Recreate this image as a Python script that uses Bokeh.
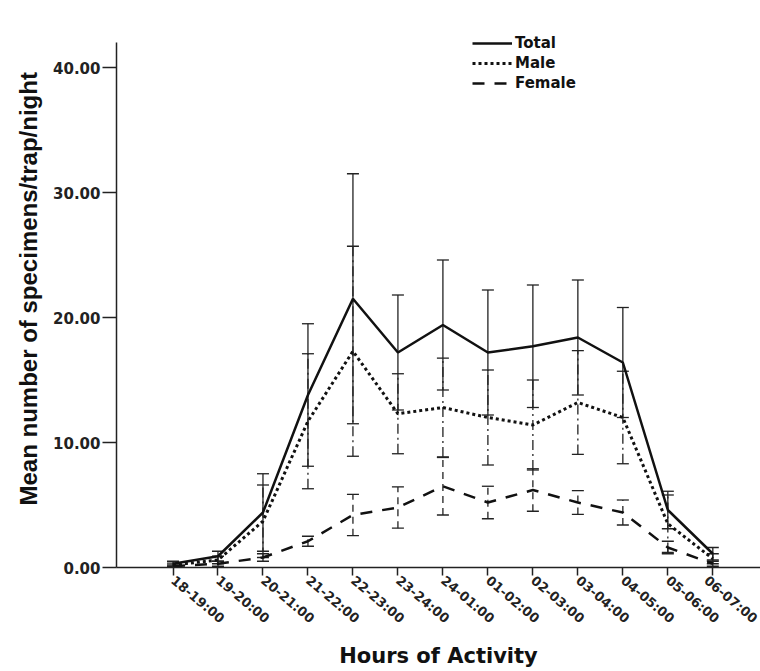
import numpy as np
from bokeh.plotting import figure
from bokeh.models import (ColumnDataSource, Range1d, FixedTicker, PrintfTickFormatter,
                          Whisker, TeeHead, Legend, LegendItem, Title)
from bokeh.embed import file_html
from bokeh.resources import INLINE

hours = ["18-19:00", "19-20:00", "20-21:00", "21-22:00", "22-23:00", "23-24:00",
         "24-01:00", "01-02:00", "02-03:00", "03-04:00", "04-05:00", "05-06:00", "06-07:00"]
total = [0.3, 0.9, 4.4, 13.8, 21.5, 17.2, 19.4, 17.2, 17.7, 18.4, 16.4, 4.6, 1.1]
total_err = [0.2, 0.4, 3.1, 5.7, 10.0, 4.6, 5.2, 5.0, 4.9, 4.6, 4.4, 1.5, 0.5]
male = [0.2, 0.6, 3.7, 11.7, 17.3, 12.3, 12.8, 12.0, 11.4, 13.2, 12.0, 3.5, 0.7]
male_err = [0.15, 0.3, 2.9, 5.4, 8.4, 3.2, 3.95, 3.8, 3.6, 4.15, 3.7, 2.3, 0.4]
female = [0.1, 0.3, 0.8, 2.1, 4.2, 4.8, 6.5, 5.2, 6.2, 5.2, 4.4, 1.6, 0.3]
female_err = [0.1, 0.2, 0.3, 0.4, 1.65, 1.65, 2.3, 1.3, 1.7, 0.95, 1.0, 0.5, 0.2]
y_ticks = [0, 10, 20, 30, 40]

x = np.arange(len(hours))

def src(vals, errs):
    v = np.array(vals)
    e = np.array(errs)
    return ColumnDataSource(dict(x=x, y=v, upper=v + e, lower=v - e))

s_total = src(total, total_err)
s_male = src(male, male_err)
s_female = src(female, female_err)

FONT = "DejaVu Sans"
INK = "#111111"

p = figure(width=760, height=671, output_backend="svg", toolbar_location=None,
           x_range=Range1d(-1.256, 13.06), y_range=Range1d(0, 42.96),
           min_border_left=116, min_border_right=0, min_border_top=30, min_border_bottom=104)
p.outline_line_color = None
p.xgrid.grid_line_color = None
p.ygrid.grid_line_color = None
p.background_fill_color = "white"

# error bars
for s, dash in [(s_total, "solid"), (s_male, "10 4 2 4"), (s_female, "7 5")]:
    w = Whisker(source=s, base="x", upper="upper", lower="lower", dimension="height",
                line_color="#222222", line_width=1.3, line_dash=dash,
                upper_head=TeeHead(size=12, line_color="#222222", line_width=1.3),
                lower_head=TeeHead(size=12, line_color="#222222", line_width=1.3))
    p.add_layout(w)

r_total = p.line("x", "y", source=s_total, line_color=INK, line_width=2.5)
r_male = p.line("x", "y", source=s_male, line_color=INK, line_width=3, line_dash="3 3")
r_female = p.line("x", "y", source=s_female, line_color=INK, line_width=2.5, line_dash="12 10")

legend = Legend(items=[LegendItem(label="Total", renderers=[r_total]),
                       LegendItem(label="Male", renderers=[r_male]),
                       LegendItem(label="Female", renderers=[r_female])],
                location=(356, 474), padding=0, margin=0, spacing=0,
                glyph_width=40, glyph_height=20, label_height=20, label_standoff=3,
                label_text_font=FONT, label_text_font_style="bold",
                label_text_font_size="15px", label_text_color=INK,
                border_line_color=None, background_fill_alpha=0)
p.add_layout(legend)

# y axis
p.yaxis.ticker = FixedTicker(ticks=y_ticks)
p.yaxis.bounds = (0, 42)
p.yaxis.formatter = PrintfTickFormatter(format="%.2f")
p.yaxis.minor_tick_line_color = None
p.yaxis.major_tick_out = 14
p.yaxis.major_tick_in = 0
p.yaxis.major_label_standoff = 2
p.yaxis.major_label_text_font = FONT
p.yaxis.major_label_text_font_style = "bold"
p.yaxis.major_label_text_font_size = "15px"
p.yaxis.major_label_text_color = "#222222"
p.yaxis.axis_line_color = "#222222"
p.yaxis.axis_line_width = 1.5
p.yaxis.major_tick_line_color = "#222222"
p.yaxis.major_tick_line_width = 1.5

ytitle = Title(text="Mean number of specimens/trap/night", align="left", offset=62,
               standoff=18, text_font="Liberation Sans", text_font_style="bold",
               text_font_size="24px", text_color=INK)
p.add_layout(ytitle, "left")

# x axis
p.xaxis.ticker = FixedTicker(ticks=list(x))
p.xaxis.major_label_overrides = {int(i): h for i, h in zip(x, hours)}
p.xaxis.minor_tick_line_color = None
p.xaxis.major_tick_out = 8
p.xaxis.major_tick_in = 0
p.xaxis.major_label_orientation = -0.7
p.xaxis.major_label_standoff = 3
p.xaxis.major_label_text_font = FONT
p.xaxis.major_label_text_font_style = "bold"
p.xaxis.major_label_text_font_size = "13px"
p.xaxis.major_label_text_color = "#222222"
p.xaxis.axis_line_color = "#222222"
p.xaxis.axis_line_width = 1.5
p.xaxis.major_tick_line_color = "#222222"
p.xaxis.major_tick_line_width = 1.5
p.xaxis.axis_label = "Hours of Activity"
p.xaxis.axis_label_text_font = FONT
p.xaxis.axis_label_text_font_style = "bold"
p.xaxis.axis_label_text_font_size = "21px"
p.xaxis.axis_label_text_color = INK
p.xaxis.axis_label_standoff = 9

open("out.html", "w").write(file_html(p, INLINE))
